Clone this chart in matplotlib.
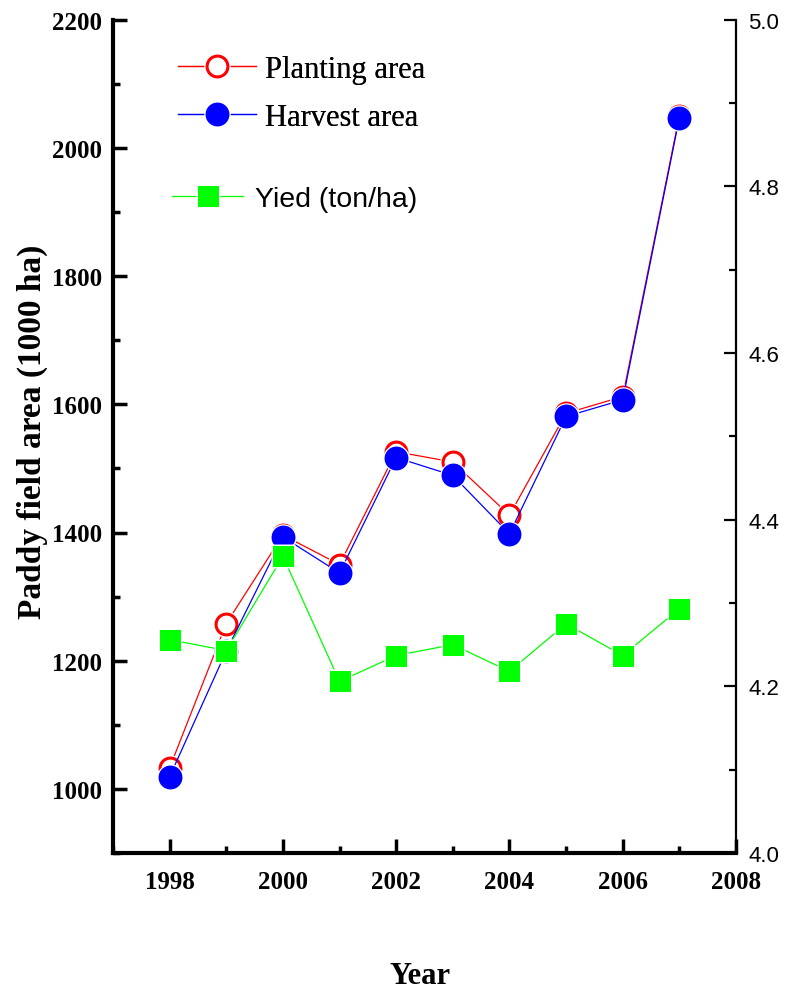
import matplotlib.pyplot as plt
from matplotlib.legend_handler import HandlerTuple
from matplotlib.ticker import MultipleLocator

years = [1998, 1999, 2000, 2001, 2002, 2003, 2004, 2005, 2006, 2007]
planting = [1033, 1258, 1396, 1350, 1526, 1510, 1427, 1586, 1612, 2050]
harvest = [1019, 1215, 1393, 1337, 1517, 1489, 1398, 1581, 1607, 2047]
yields = [4.256, 4.243, 4.356, 4.206, 4.237, 4.250, 4.218, 4.275, 4.237, 4.293]

serif = ['Liberation Serif', 'DejaVu Serif']
sans = ['Liberation Sans', 'DejaVu Sans']

fig = plt.figure(figsize=(7.92, 9.95), dpi=100)
ax = fig.add_axes([113 / 792, 1 - 854 / 995, 623 / 792, (854 - 20.7) / 995])
ax2 = ax.twinx()


def series(axis, x, y, marker, ms, color, mfc, z):
    line, = axis.plot(x, y, '-', color=color, lw=0.9, zorder=z)
    halo, = axis.plot(x, y, marker, ms=ms + 4, mfc='white', mec='none',
                      ls='none', zorder=z + 0.1)
    mk, = axis.plot(x, y, marker, ms=ms, mfc=mfc, mec=color, mew=2.2,
                    ls='none', zorder=z + 0.2)
    return (line, halo, mk)


h_plant = series(ax, years, planting, 'o', 15, 'red', 'white', 2)
h_harv = series(ax, years, harvest, 'o', 15, 'blue', 'blue', 3)
h_yield = series(ax2, years, yields, 's', 13.5, '#00ff00', '#00ff00', 2)

ax.set_xlim(1997, 2008)
ax.set_ylim(900, 2200)
ax2.set_ylim(4.0, 5.0)

ax.xaxis.set_major_locator(MultipleLocator(2))
ax.xaxis.set_minor_locator(MultipleLocator(1))
ax.yaxis.set_major_locator(MultipleLocator(200))
ax.yaxis.set_minor_locator(MultipleLocator(100))
ax2.yaxis.set_major_locator(MultipleLocator(0.2))
ax2.yaxis.set_minor_locator(MultipleLocator(0.1))

ax.spines['top'].set_visible(False)
ax.spines['right'].set_visible(False)
ax2.spines['top'].set_visible(False)
ax2.spines['left'].set_visible(False)
ax2.spines['bottom'].set_visible(False)
for s in ('left', 'bottom'):
    ax.spines[s].set_linewidth(3)
ax2.spines['right'].set_linewidth(1.6)

ax.tick_params(axis='both', which='major', direction='in', length=10, width=2.5)
ax.tick_params(axis='both', which='minor', direction='in', length=5, width=2.5)
ax.tick_params(axis='y', pad=8)
ax.tick_params(axis='x', pad=12)
ax2.tick_params(axis='y', which='major', direction='in', length=9, width=1.6, pad=9)
ax2.tick_params(axis='y', which='minor', direction='in', length=5, width=1.6)

for lab in ax.get_xticklabels() + ax.get_yticklabels():
    lab.set_fontfamily(serif)
    lab.set_fontweight('bold')
    lab.set_fontsize(18)
for lab in ax2.get_yticklabels():
    lab.set_fontfamily(sans)
    lab.set_fontsize(16)
ax2.yaxis.set_major_formatter(plt.FuncFormatter(lambda v, p: f'{v:.1f}'))

fig.text(32 / 792, 1 - 432 / 995, 'Paddy field area (1000 ha)', rotation=90,
         ha='center', va='center', family=serif, weight='bold', fontsize=24)
fig.text(420 / 792, 1 - 977 / 995, 'Year', ha='center', va='center',
         family=serif, weight='bold', fontsize=22)

leg1 = ax.legend([h_plant, h_harv], ['Planting area', 'Harvest area'],
                 handler_map={tuple: HandlerTuple(ndivide=1)},
                 loc='upper left', bbox_to_anchor=((178 - 113) / 623, (854 - 56) / 833.3),
                 frameon=False, borderpad=0, borderaxespad=0, handlelength=2.55,
                 handletextpad=0.3, labelspacing=0.62,
                 prop={'family': serif, 'size': 22})
ax.add_artist(leg1)
leg2 = ax2.legend([h_yield], ['Yied (ton/ha)'],
                  handler_map={tuple: HandlerTuple(ndivide=1)},
                  loc='upper left', bbox_to_anchor=((172 - 113) / 623, (854 - 187) / 833.3),
                  frameon=False, borderpad=0, borderaxespad=0, handlelength=2.5,
                  handletextpad=0.4, prop={'family': sans, 'size': 20.5})

fig.savefig('out.png', dpi=100)
